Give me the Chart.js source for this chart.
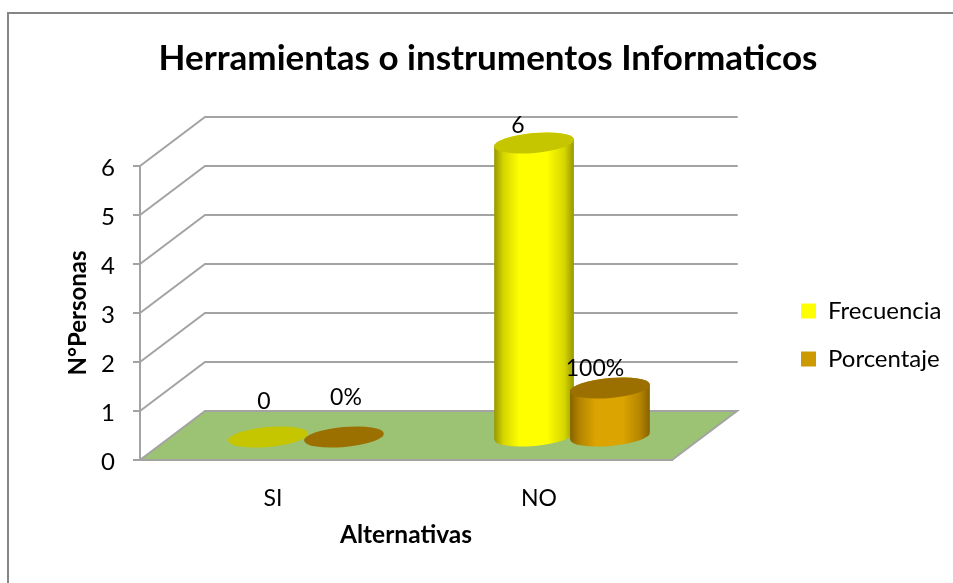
<!DOCTYPE html>
<html>
<head>
<meta charset="utf-8">
<style>html,body{margin:0;padding:0;background:#fff}canvas{display:block}</style>
<script src="https://cdn.jsdelivr.net/npm/chart.js@4"></script>
</head>
<body>
<canvas id="c" width="953" height="583"></canvas>
<script>
const categories = ['SI', 'NO'];
const frecuencia = [0, 6];
const porcentaje = [0, 1];
const frecuenciaLabels = ['0', '6'];
const porcentajeLabels = ['0%', '100%'];
const yTicks = [0, 1, 2, 3, 4, 5, 6];

const FONT = 'Lato';
const GRID = '#a3a3a3';
const DEPTH = {x: 65, y: 49};
const COL = {x: 33, y: 23};
const LABEL_OFFSETS = [[[-4, -35], [-16, -17]], [[2, -39], [-15, -19]]];
const SKINS = [
  {edge: '#969600', soft: '#d6d600', mid: '#ffff00', top: '#c6c600'},
  {edge: '#866100', soft: '#b48400', mid: '#dba400', top: '#9c7000'}
];

function drawCylinder(ctx, el, skin) {
  const rx = el.width * 0.527, ry = 10, rot = -0.09;
  const cx = el.x + COL.x, top = el.y - COL.y, bot = el.base - COL.y;
  if (bot - top > 0.5) {
    const g = ctx.createLinearGradient(cx - rx, 0, cx + rx, 0);
    g.addColorStop(0, skin.edge);
    g.addColorStop(0.12, skin.soft);
    g.addColorStop(0.32, skin.mid);
    g.addColorStop(0.66, skin.mid);
    g.addColorStop(0.88, skin.soft);
    g.addColorStop(1, skin.edge);
    ctx.fillStyle = g;
    ctx.beginPath();
    ctx.ellipse(cx, bot, rx, ry, rot, 0, Math.PI, false);
    ctx.ellipse(cx, top, rx, ry, rot, Math.PI, 2 * Math.PI, false);
    ctx.closePath();
    ctx.fill();
  }
  ctx.fillStyle = skin.top;
  ctx.beginPath();
  ctx.ellipse(cx, top, rx, ry, rot, 0, 2 * Math.PI);
  ctx.fill();
}

const scene = {
  id: 'scene',
  beforeLayout(chart) {
    const lg = chart.legend;
    if (lg && !lg._patched) {
      const fit = lg.fit.bind(lg);
      lg.fit = function () { fit(); this.width = 281; };
      lg._patched = true;
    }
  },
  afterLayout(chart) {
    chart.legend.left = 777;
    chart.legend.top = 275;
    chart.titleBlock.left = 33;
    chart.titleBlock.right = 943;
  },
  beforeDraw(chart) {
    const {ctx, chartArea: a, scales: {y}} = chart;
    ctx.save();
    ctx.strokeStyle = '#868686';
    ctx.lineWidth = 2;
    ctx.beginPath();
    ctx.moveTo(8, 583); ctx.lineTo(8, 13); ctx.lineTo(953, 13);
    ctx.stroke();
    ctx.lineCap = 'round';
    ctx.fillStyle = '#9cc274';
    ctx.beginPath();
    ctx.moveTo(a.left, a.bottom);
    ctx.lineTo(a.left + DEPTH.x, a.bottom - DEPTH.y);
    ctx.lineTo(a.right + DEPTH.x, a.bottom - DEPTH.y);
    ctx.lineTo(a.right, a.bottom);
    ctx.closePath();
    ctx.fill();
    ctx.strokeStyle = GRID;
    ctx.lineWidth = 2;
    y.ticks.forEach(t => {
      const p = y.getPixelForValue(t.value);
      ctx.beginPath();
      ctx.moveTo(a.left, p);
      ctx.lineTo(a.left + DEPTH.x, p - DEPTH.y);
      ctx.lineTo(a.right + DEPTH.x, p - DEPTH.y);
      if (t.value === 0) ctx.lineTo(a.right, p);
      ctx.stroke();
    });
    ctx.restore();
  },
  beforeDatasetsDraw(chart) {
    const ctx = chart.ctx;
    ctx.save();
    chart.data.datasets.forEach((d, i) => {
      chart.getDatasetMeta(i).data.forEach(el => drawCylinder(ctx, el, SKINS[i]));
    });
    ctx.restore();
  },
  beforeDatasetDraw() { return false; },
  afterDatasetsDraw(chart) {
    const ctx = chart.ctx;
    ctx.save();
    ctx.font = '23px ' + FONT;
    ctx.fillStyle = '#000';
    ctx.textAlign = 'center';
    ctx.textBaseline = 'middle';
    [frecuenciaLabels, porcentajeLabels].forEach((labels, i) => {
      chart.getDatasetMeta(i).data.forEach((el, j) => {
        const off = LABEL_OFFSETS[i][j];
        ctx.fillText(labels[j], el.x + COL.x + off[0], el.y - COL.y + off[1]);
      });
    });
    ctx.restore();
  }
};

new Chart(document.getElementById('c'), {
  type: 'bar',
  data: {
    labels: categories,
    datasets: [
      {label: 'Frecuencia', data: frecuencia, backgroundColor: '#ffff00', borderWidth: 0},
      {label: 'Porcentaje', data: porcentaje, backgroundColor: '#cc9900', borderWidth: 0}
    ]
  },
  options: {
    responsive: false,
    animation: false,
    layout: {padding: {left: 33, right: 0, top: 0, bottom: 23}},
    categoryPercentage: 0.571,
    barPercentage: 1,
    plugins: {
      tooltip: {enabled: false},
      title: {
        display: true,
        text: 'Herramientas o instrumentos Informaticos',
        color: '#000',
        font: {family: FONT, size: 35, weight: 'bold'},
        padding: {top: 38, bottom: 86}
      },
      legend: {
        position: 'right',
        align: 'start',
        labels: {
          color: '#000',
          font: {family: FONT, size: 24},
          boxWidth: 15,
          boxHeight: 15,
          padding: 24
        }
      }
    },
    scales: {
      x: {
        grid: {display: false},
        border: {display: true, color: GRID, width: 2},
        ticks: {color: '#000', font: {family: FONT, size: 23}, padding: 17},
        title: {display: true, text: 'Alternativas', color: '#000', font: {family: FONT, size: 24.5, weight: 'bold'}, padding: {top: 0, bottom: 10}},
        afterFit(s) { s.height = 100; }
      },
      y: {
        min: yTicks[0],
        max: yTicks[yTicks.length - 1],
        afterBuildTicks(s) { s.ticks = yTicks.map(v => ({value: v})); },
        grid: {drawOnChartArea: false, drawTicks: true, tickLength: 7, color: GRID, lineWidth: 2},
        border: {display: true, color: GRID, width: 2},
        ticks: {color: '#000', font: {family: FONT, size: 24}, padding: 18, labelOffset: 2},
        title: {display: true, text: 'N°Personas', color: '#000', font: {family: FONT, size: 24, weight: 'bold'}, padding: {top: 31, bottom: 0}},
        afterFit(s) { s.width = 107; }
      }
    }
  },
  plugins: [scene]
});
</script>
</body>
</html>
